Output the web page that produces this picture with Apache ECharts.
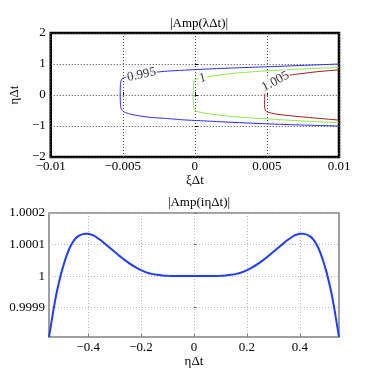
<!DOCTYPE html>
<html>
<head>
<meta charset="utf-8">
<script src="https://cdn.jsdelivr.net/npm/echarts@6/dist/echarts.min.js"></script>
<style>
  html, body { margin: 0; padding: 0; background: #fff; }
  #main { width: 374px; height: 379px; }
</style>
</head>
<body>
<div id="main"></div>
<script>
// top plot: contour levels of |Amp(lambda dt)|, points [xi dt, eta dt]
var levelNames = ['0.995', '1', '1.005'];
var levelColors = ['#2a2ae8', '#8ee84a', '#a01c1c'];
var contour0995 = [
  [0.01, 1.0], [0.0075, 0.955], [0.005, 0.91], [0.0025, 0.87], [0.0005, 0.83], [-0.0019, 0.77],
  [-0.0028, 0.73], [-0.0037, 0.66], [-0.0045, 0.6], [-0.0049, 0.56], [-0.00505, 0.52],
  [-0.00512, 0.47], [-0.00516, 0.35], [-0.00518, 0.15], [-0.00518, -0.05], [-0.00516, -0.3],
  [-0.00512, -0.44], [-0.00503, -0.5], [-0.0049, -0.55], [-0.00453, -0.61], [-0.0042, -0.645],
  [-0.00315, -0.72], [-0.0019, -0.76], [-0.00085, -0.8], [0.0004, -0.83], [0.0021, -0.87],
  [0.005, -0.93], [0.0075, -0.97], [0.01, -1.0]
];
var contour1 = [
  [0.01, 0.89], [0.0075, 0.84], [0.005, 0.78], [0.0027, 0.7], [0.00088, 0.59], [0.0004, 0.54],
  [0.0, 0.5], [-0.00005, 0.46], [-0.0001, 0.3], [-0.00012, 0.0], [-0.0001, -0.3],
  [-0.00005, -0.46], [0.0, -0.5], [0.0004, -0.56], [0.0009, -0.6], [0.0027, -0.7],
  [0.005, -0.77], [0.0075, -0.84], [0.01, -0.89]
];
var contour1005 = [
  [0.01, 0.81], [0.00846, 0.75], [0.0064, 0.63], [0.0057, 0.57], [0.0052, 0.49], [0.00495, 0.38],
  [0.00488, 0.25], [0.00485, 0.05], [0.00484, -0.15], [0.00483, -0.35], [0.00487, -0.46],
  [0.00497, -0.54], [0.0057, -0.62], [0.0073, -0.7], [0.01, -0.81]
];
// where the inline contour labels sit, and their tilt
var labelPos = [[-0.0037, 0.655], [0.00053, 0.54], [0.0056, 0.44]];
var labelTilt = [12, 14, 28];

// bottom plot: |Amp(i eta dt)|
var ampEta = [
  -0.548, -0.544, -0.54, -0.535, -0.53, -0.525, -0.52, -0.515, -0.51, -0.505, -0.5, -0.49,
  -0.48, -0.47, -0.46, -0.45, -0.44, -0.43, -0.42, -0.41, -0.4, -0.39, -0.38, -0.37, -0.36,
  -0.35, -0.34, -0.33, -0.32, -0.31, -0.3, -0.28, -0.26, -0.24, -0.22, -0.2, -0.18, -0.16,
  -0.14, -0.12, -0.1, -0.07, -0.04, 0,
  0.04, 0.07, 0.1, 0.12, 0.14, 0.16, 0.18, 0.2, 0.22, 0.24, 0.26, 0.28, 0.3, 0.31, 0.32,
  0.33, 0.34, 0.35, 0.36, 0.37, 0.38, 0.39, 0.4, 0.41, 0.42, 0.43, 0.44, 0.45, 0.46, 0.47,
  0.48, 0.49, 0.5, 0.505, 0.51, 0.515, 0.52, 0.525, 0.53, 0.535, 0.54, 0.544, 0.548
];
var ampVal = [
  0.999807, 0.999827, 0.999848, 0.999873, 0.999899, 0.999922, 0.999944, 0.999963, 0.999981,
  0.999999, 1.000015, 1.000043, 1.000068, 1.000089, 1.000105, 1.000117, 1.000125, 1.00013,
  1.000133, 1.000134, 1.000134, 1.000132, 1.000129, 1.000124, 1.000118, 1.000112, 1.000105,
  1.000098, 1.000091, 1.000084, 1.000077, 1.000063, 1.00005, 1.000038, 1.000028, 1.000019,
  1.000012, 1.000007, 1.000004, 1.000002, 1.0000008, 1.0000002, 1.0, 1.0,
  1.0, 1.0000002, 1.0000008, 1.000002, 1.000004, 1.000007, 1.000012, 1.000019, 1.000028,
  1.000038, 1.00005, 1.000063, 1.000077, 1.000084, 1.000091, 1.000098, 1.000105, 1.000112,
  1.000118, 1.000124, 1.000129, 1.000132, 1.000134, 1.000134, 1.000133, 1.00013, 1.000125,
  1.000117, 1.000105, 1.000089, 1.000068, 1.000043, 1.000015, 0.999999, 0.999981, 0.999963,
  0.999944, 0.999922, 0.999899, 0.999873, 0.999848, 0.999827, 0.999807
];
var ampXTicks = [-0.4, -0.2, 0, 0.2, 0.4];
var ampYTicks = [0.9999, 1, 1.0001, 1.0002];

var font = 'Liberation Serif';
function minus(v) { return String(v).replace('-', '\u2212'); }

var ampData = [];
for (var i = 0; i < ampEta.length; i++) ampData.push([ampEta[i], ampVal[i]]);

var contours = [contour0995, contour1, contour1005];
var series = [];
for (var k = 0; k < contours.length; k++) {
  series.push({
    type: 'line', xAxisIndex: 0, yAxisIndex: 0, data: contours[k],
    symbol: 'none', smooth: 0.2, lineStyle: { color: levelColors[k], width: 1 }, z: 2
  });
}
var labelData = [];
for (var k = 0; k < levelNames.length; k++) {
  labelData.push({ value: labelPos[k], name: levelNames[k], label: { rotate: labelTilt[k] } });
}
series.push({
  type: 'scatter', xAxisIndex: 0, yAxisIndex: 0, data: labelData, symbolSize: 0, z: 5,
  label: {
    show: true, position: 'inside', formatter: '{b}', color: '#000',
    fontFamily: font, fontSize: 13, backgroundColor: '#fff', padding: [0, 1]
  }
});
series.push({
  type: 'line', xAxisIndex: 1, yAxisIndex: 1, data: ampData, symbol: 'none', smooth: 0.15,
  lineStyle: { color: '#1f3cff', width: 2 }
});

var chart = echarts.init(document.getElementById('main'));
chart.setOption({
  animation: false,
  backgroundColor: '#fff',
  title: [
    { text: '|Amp(\u03bb\u0394t)|', left: 194, top: 12, textAlign: 'center',
      textStyle: { fontFamily: font, fontSize: 13, fontWeight: 'normal', color: '#000' } },
    { text: '|Amp(i\u03b7\u0394t)|', left: 194, top: 191, textAlign: 'center',
      textStyle: { fontFamily: font, fontSize: 13, fontWeight: 'normal', color: '#000' } }
  ],
  grid: [
    { left: 49, width: 290, top: 33, height: 124, show: true, borderColor: '#000', borderWidth: 2.5, backgroundColor: 'transparent' },
    { left: 49, width: 290, top: 213, height: 124, show: true, borderColor: '#808080', borderWidth: 1.5, backgroundColor: 'transparent' }
  ],
  xAxis: [
    { type: 'value', gridIndex: 0, min: -0.01, max: 0.01, interval: 0.005,
      name: '\u03be\u0394t', nameLocation: 'middle', nameGap: 15,
      nameTextStyle: { fontFamily: font, fontSize: 13, color: '#000' },
      axisLine: { show: false },
      axisTick: { show: true, inside: true, length: 3, lineStyle: { color: '#000' } },
      axisLabel: { fontFamily: font, fontSize: 13, color: '#000', margin: 3, formatter: minus },
      splitLine: { show: true, lineStyle: { color: '#444', type: [1, 2], width: 1 } } },
    { type: 'value', gridIndex: 1, min: -0.548, max: 0.548,
      name: '\u03b7\u0394t', nameLocation: 'middle', nameGap: 15,
      nameTextStyle: { fontFamily: font, fontSize: 13, color: '#000' },
      axisLine: { show: false },
      axisTick: { show: true, inside: true, length: 3, customValues: ampXTicks, lineStyle: { color: '#808080' } },
      axisLabel: { fontFamily: font, fontSize: 13, color: '#000', margin: 4, customValues: ampXTicks, formatter: minus },
      splitLine: { show: true, lineStyle: { color: '#bbb', type: [1, 2], width: 1 } } }
  ],
  yAxis: [
    { type: 'value', gridIndex: 0, min: -2, max: 2, interval: 1,
      name: '\u03b7\u0394t', nameLocation: 'middle', nameGap: 19,
      nameTextStyle: { fontFamily: font, fontSize: 13, color: '#000' },
      axisLine: { show: false },
      axisTick: { show: true, inside: true, length: 3, lineStyle: { color: '#000' } },
      axisLabel: { fontFamily: font, fontSize: 13, color: '#000', margin: 5, formatter: minus },
      splitLine: { show: true, lineStyle: { color: '#444', type: [1, 2], width: 1 } } },
    { type: 'value', gridIndex: 1, min: 0.999807, max: 1.0002,
      axisLine: { show: false },
      axisTick: { show: true, inside: true, length: 3, customValues: ampYTicks, lineStyle: { color: '#808080' } },
      axisLabel: { fontFamily: font, fontSize: 13, color: '#000', margin: 4, customValues: ampYTicks,
        formatter: function (v) { return String(+v.toFixed(4)); } },
      splitLine: { show: true, lineStyle: { color: '#bbb', type: [1, 2], width: 1 } } }
  ],
  series: series
});
</script>
</body>
</html>
